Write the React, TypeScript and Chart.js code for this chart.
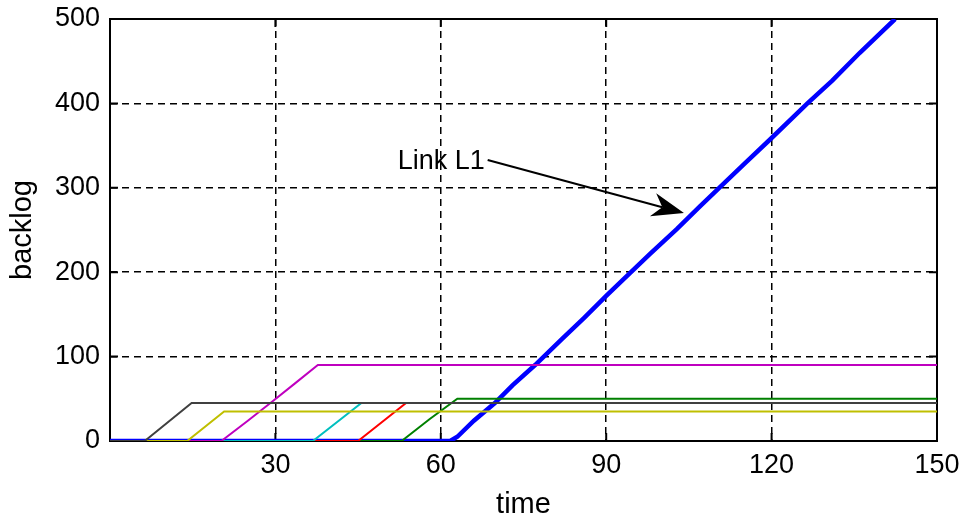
import React, { useEffect, useRef } from 'react';
import { Chart, registerables } from 'chart.js';

Chart.register(...registerables);

// Axis ranges and tick values
const timeTicks = [0, 30, 60, 90, 120, 150];
const backlogTicks = [0, 100, 200, 300, 400, 500];

// Backlog per link over time (time, backlog)
const grayTimes = [0, 6.3, 14.8, 150];
const grayBacklog = [0, 0, 45, 45];

const yellowTimes = [0, 14.0, 20.7, 150];
const yellowBacklog = [0, 0, 35, 35];

const magentaTimes = [0, 20.2, 25, 29.5, 33.5, 37.7, 150];
const magentaBacklog = [0, 0, 24, 47, 68, 90, 90];

const cyanTimes = [0, 36.8, 45.6, 150];
const cyanBacklog = [0, 0, 45, 45];

const redTimes = [0, 45.0, 53.7, 150];
const redBacklog = [0, 0, 45, 45];

const greenTimes = [0, 52.9, 58, 63.0, 150];
const greenBacklog = [0, 0, 26, 50, 50];

const link1Times = [
  0, 61.7, 63, 66, 69.8, 73, 77.1, 82, 86, 90, 94.3, 98, 102.8, 107, 110.5, 115,
  120, 126.5, 131, 136, 142.4,
];
const link1Backlog = [
  0, 0, 5, 24, 45, 66, 90, 121, 146, 172, 199, 222, 251, 278, 300, 328, 359,
  400, 427, 460, 500,
];

// Annotation: label anchor, arrow start and arrow tip, in (time, backlog)
const linkLabel = 'Link L1';
const labelAt = [52.2, 322];
const arrowFrom = [68.5, 333];
const arrowTo = [104.1, 270];

const FONT = '"Liberation Sans", Arial, Helvetica, sans-serif';

const zip = (xs: number[], ys: number[]) => xs.map((x, i) => ({ x, y: ys[i] }));

const frameAndNotes = {
  id: 'frameAndNotes',
  beforeDatasetsDraw(chart: any) {
    const { ctx, chartArea: a, scales } = chart;
    const xs = scales.x;
    const ys = scales.y;
    ctx.save();
    ctx.strokeStyle = '#000';
    ctx.lineWidth = 2;
    ctx.setLineDash([]);
    const tick = 8;
    ctx.beginPath();
    for (const v of timeTicks) {
      const px = xs.getPixelForValue(v);
      ctx.moveTo(px, a.bottom);
      ctx.lineTo(px, a.bottom - tick);
      ctx.moveTo(px, a.top);
      ctx.lineTo(px, a.top + tick);
    }
    for (const v of backlogTicks) {
      const py = ys.getPixelForValue(v);
      ctx.moveTo(a.left, py);
      ctx.lineTo(a.left + tick, py);
      ctx.moveTo(a.right, py);
      ctx.lineTo(a.right - tick, py);
    }
    ctx.stroke();
    ctx.strokeRect(a.left, a.top, a.right - a.left, a.bottom - a.top);
    ctx.restore();
  },
  afterDatasetsDraw(chart: any) {
    const { ctx, scales } = chart;
    const xs = scales.x;
    const ys = scales.y;
    const px = (p: number[]) => [xs.getPixelForValue(p[0]), ys.getPixelForValue(p[1])];
    ctx.save();
    ctx.fillStyle = '#000';
    ctx.strokeStyle = '#000';
    ctx.font = `27px ${FONT}`;
    ctx.textAlign = 'left';
    ctx.textBaseline = 'alphabetic';
    const [lx, ly] = px(labelAt);
    ctx.fillText(linkLabel, lx, ly);

    const [sx, sy] = px(arrowFrom);
    const [tx, ty] = px(arrowTo);
    const dx = tx - sx;
    const dy = ty - sy;
    const len = Math.hypot(dx, dy);
    const ux = dx / len;
    const uy = dy / len;
    const nx = -uy;
    const ny = ux;
    const L = 32;
    const W = 12;
    ctx.lineWidth = 2;
    ctx.beginPath();
    ctx.moveTo(sx, sy);
    ctx.lineTo(tx - ux * L * 0.7, ty - uy * L * 0.7);
    ctx.stroke();
    ctx.beginPath();
    ctx.moveTo(tx, ty);
    ctx.lineTo(tx - ux * L + nx * W, ty - uy * L + ny * W);
    ctx.lineTo(tx - ux * L * 0.7, ty - uy * L * 0.7);
    ctx.lineTo(tx - ux * L - nx * W, ty - uy * L - ny * W);
    ctx.closePath();
    ctx.fill();
    ctx.restore();
  },
};

export default function App() {
  const ref = useRef<HTMLCanvasElement | null>(null);

  useEffect(() => {
    if (!ref.current) return;
    const series = [
      { t: grayTimes, v: grayBacklog, color: '#404040', w: 2 },
      { t: yellowTimes, v: yellowBacklog, color: '#bfbf00', w: 2 },
      { t: magentaTimes, v: magentaBacklog, color: '#bf00bf', w: 2 },
      { t: cyanTimes, v: cyanBacklog, color: '#00bfbf', w: 2 },
      { t: redTimes, v: redBacklog, color: '#ff0000', w: 2 },
      { t: greenTimes, v: greenBacklog, color: '#008000', w: 2 },
      { t: link1Times, v: link1Backlog, color: '#0000ff', w: 4.5 },
    ];
    const chart = new Chart(ref.current, {
      type: 'scatter',
      data: {
        datasets: series.map((s) => ({
          data: zip(s.t, s.v),
          showLine: true,
          borderColor: s.color,
          backgroundColor: s.color,
          borderWidth: s.w,
          pointRadius: 0,
          tension: 0,
        })),
      },
      options: {
        responsive: false,
        animation: false,
        layout: { padding: { top: 19, right: 28, left: 0, bottom: 0 } },
        plugins: { legend: { display: false }, tooltip: { enabled: false } },
        scales: {
          x: {
            type: 'linear',
            min: 0,
            max: 150,
            afterBuildTicks: (s: any) => {
              s.ticks = timeTicks.map((value) => ({ value }));
            },
            afterFit: (s: any) => {
              s.height = 78;
              s.paddingLeft = 0;
              s.paddingRight = 0;
            },
            grid: { color: '#000', lineWidth: 1.5, drawTicks: false },
            border: { display: false, dash: [7, 5] },
            ticks: {
              padding: 8,
              color: '#000',
              font: { family: FONT, size: 27 },
              maxRotation: 0,
              callback: (v: any) => (v === 0 ? '' : String(v)),
            },
            title: {
              display: true,
              text: 'time',
              color: '#000',
              font: { family: FONT, size: 29, lineHeight: 1 },
              padding: { top: 0, bottom: 0 },
            },
          },
          y: {
            type: 'linear',
            min: 0,
            max: 500,
            afterBuildTicks: (s: any) => {
              s.ticks = backlogTicks.map((value) => ({ value }));
            },
            afterFit: (s: any) => {
              s.width = 110;
              s.paddingTop = 0;
              s.paddingBottom = 0;
            },
            grid: { color: '#000', lineWidth: 1.5, drawTicks: false },
            border: { display: false, dash: [7, 5] },
            ticks: {
              padding: 10,
              color: '#000',
              font: { family: FONT, size: 27 },
              callback: (v: any) => String(v),
            },
            title: {
              display: true,
              text: 'backlog',
              color: '#000',
              font: { family: FONT, size: 29, lineHeight: 1 },
              padding: { top: 8, bottom: 0 },
            },
          },
        },
      },
      plugins: [frameAndNotes],
    });
    return () => chart.destroy();
  }, []);

  return (
    <div style={{ position: 'absolute', left: 0, top: 0, width: 965, height: 519, background: '#fff' }}>
      <canvas ref={ref} width={965} height={519} style={{ display: 'block' }} />
    </div>
  );
}
